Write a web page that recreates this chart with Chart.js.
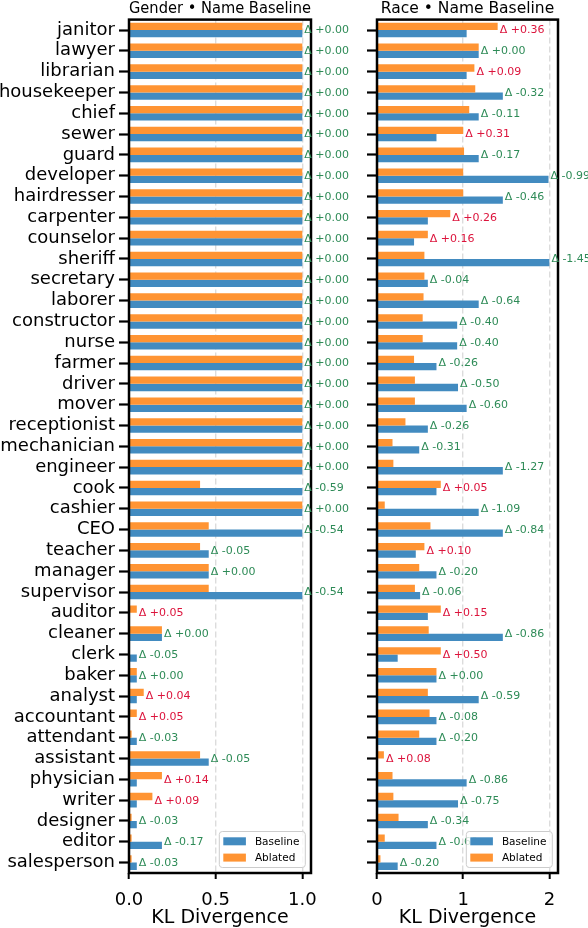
<!DOCTYPE html>
<html>
<head>
<meta charset="utf-8">
<script src="https://cdn.jsdelivr.net/npm/chart.js@4.4.1/dist/chart.umd.min.js"></script>
<style>
  html, body { margin: 0; padding: 0; background: #fff; }
  #wrap { position: relative; width: 588px; height: 928px; overflow: hidden; }
  #wrap canvas { position: absolute; left: 0; top: 0; }
</style>
</head>
<body>
<div id="wrap">
  <canvas id="gender" width="588" height="928"></canvas>
  <canvas id="race" width="588" height="928"></canvas>
</div>
<script>
// occupations, top to bottom
const occupations = ['janitor', 'lawyer', 'librarian', 'housekeeper', 'chief', 'sewer', 'guard',
  'developer', 'hairdresser', 'carpenter', 'counselor', 'sheriff', 'secretary', 'laborer',
  'constructor', 'nurse', 'farmer', 'driver', 'mover', 'receptionist', 'mechanician', 'engineer',
  'cook', 'cashier', 'CEO', 'teacher', 'manager', 'supervisor', 'auditor', 'cleaner', 'clerk',
  'baker', 'analyst', 'accountant', 'attendant', 'assistant', 'physician', 'writer', 'designer',
  'editor', 'salesperson'];

// Gender panel (KL divergence)
const genderBaseline = [1, 1, 1, 1, 1, 1, 1, 1, 1, 1, 1, 1, 1, 1, 1, 1, 1, 1, 1, 1, 1, 1,
  1, 1, 1, 0.46, 0.46, 1, 0, 0.19, 0.045, 0.045, 0.045, 0, 0.045, 0.46, 0.045, 0.045, 0.045, 0.19, 0.045];
const genderAblated = [1, 1, 1, 1, 1, 1, 1, 1, 1, 1, 1, 1, 1, 1, 1, 1, 1, 1, 1, 1, 1, 1,
  0.41, 1, 0.46, 0.41, 0.46, 0.46, 0.045, 0.19, 0, 0.045, 0.085, 0.045, 0.015, 0.41, 0.19, 0.135, 0.015, 0.015, 0.015];
const genderDelta = [0, 0, 0, 0, 0, 0, 0, 0, 0, 0, 0, 0, 0, 0, 0, 0, 0, 0, 0, 0, 0, 0,
  -0.59, 0, -0.54, -0.05, 0, -0.54, 0.05, 0, -0.05, 0, 0.04, 0.05, -0.03, -0.05, 0.14, 0.09, -0.03, -0.17, -0.03];

// Race panel (KL divergence)
const raceBaseline = [1.04, 1.18, 1.04, 1.46, 1.18, 0.69, 1.18, 1.99, 1.46, 0.59, 0.43, 2.00, 0.59, 1.18,
  0.93, 0.93, 0.69, 0.94, 1.04, 0.59, 0.49, 1.46, 0.69, 1.18, 1.46, 0.45, 0.69, 0.50, 0.59, 1.46,
  0.24, 0.69, 1.18, 0.69, 0.69, 0, 1.04, 0.94, 0.59, 0.69, 0.24];
const raceAblated = [1.40, 1.18, 1.13, 1.14, 1.07, 1.00, 1.01, 1.00, 1.00, 0.85, 0.59, 0.55, 0.55, 0.54,
  0.53, 0.53, 0.43, 0.44, 0.44, 0.33, 0.18, 0.19, 0.74, 0.09, 0.62, 0.55, 0.49, 0.44, 0.74, 0.60,
  0.74, 0.69, 0.59, 0.61, 0.49, 0.08, 0.18, 0.19, 0.25, 0.09, 0.04];
const raceDelta = [0.36, 0, 0.09, -0.32, -0.11, 0.31, -0.17, -0.99, -0.46, 0.26, 0.16, -1.45, -0.04, -0.64,
  -0.40, -0.40, -0.26, -0.50, -0.60, -0.26, -0.31, -1.27, 0.05, -1.09, -0.84, 0.10, -0.20, -0.06, 0.15, -0.86,
  0.50, 0, -0.59, -0.08, -0.20, 0.08, -0.86, -0.75, -0.34, -0.60, -0.20];

const genderTicks = ['0.0', '0.5', '1.0'];
const raceTicks = ['0', '1', '2'];

const BLUE = '#428bc0';
const ORANGE = '#ff9433';
const FONT = '"DejaVu Sans", Verdana, sans-serif';

Chart.defaults.font.family = FONT;
Chart.defaults.color = '#000';

// black box around the plotting area (matplotlib spines)
const panelFrame = {
  id: 'panelFrame',
  afterDatasetsDraw(chart) {
    const { ctx, chartArea: a } = chart;
    ctx.save();
    ctx.strokeStyle = '#000';
    ctx.lineWidth = 2.5;
    ctx.strokeRect(a.left, a.top, a.right - a.left, a.bottom - a.top);
    ctx.restore();
  }
};

// "Δ +0.05" text next to the longer bar of each pair
const deltaLabels = {
  id: 'deltaLabels',
  afterDatasetsDraw(chart, args, opts) {
    const { ctx } = chart;
    const xs = chart.scales.x, ys = chart.scales.y;
    const [abl, base] = chart.data.datasets.map(d => d.data);
    ctx.save();
    ctx.font = '11px ' + FONT;
    ctx.textBaseline = 'middle';
    ctx.textAlign = 'left';
    opts.values.forEach((d, i) => {
      const px = xs.getPixelForValue(Math.max(abl[i], base[i])) + 2;
      const txt = 'Δ ' + (d < 0 ? '-' : '+') + Math.abs(d).toFixed(2);
      ctx.fillStyle = d > 0 ? '#dc143c' : '#2e8b57';
      ctx.fillText(txt, px, ys.getPixelForValue(i) + 0.5);
    });
    ctx.restore();
  }
};

// legend box in the lower right corner of the plot
const insetLegend = {
  id: 'insetLegend',
  afterDatasetsDraw(chart) {
    const { ctx, chartArea: a } = chart;
    const w = 86, h = 36;
    const x0 = a.right - 5.7 - w, y0 = a.bottom - 5.5 - h;
    ctx.save();
    ctx.beginPath();
    ctx.roundRect(x0, y0, w, h, 3);
    ctx.fillStyle = 'rgba(255,255,255,0.8)';
    ctx.fill();
    ctx.strokeStyle = '#cccccc';
    ctx.lineWidth = 1;
    ctx.stroke();
    ctx.font = '10.5px ' + FONT;
    ctx.textBaseline = 'middle';
    ctx.textAlign = 'left';
    const items = chart.data.datasets.slice().reverse();
    items.forEach((ds, k) => {
      const cy = y0 + 9.8 + k * 16.3;
      ctx.fillStyle = ds.backgroundColor;
      ctx.fillRect(x0 + 4, cy - 4, 22.6, 8);
      ctx.fillStyle = '#000';
      ctx.fillText(ds.label, x0 + 35.6, cy + 0.5);
    });
    ctx.restore();
  }
};

function makePanel(id, title, ablated, baseline, deltas, xMax, step, tickLabels, showNames, pad, yWidth) {
  return new Chart(document.getElementById(id), {
    type: 'bar',
    data: {
      labels: occupations,
      datasets: [
        { label: 'Ablated', data: ablated, backgroundColor: ORANGE, borderWidth: 0,
          categoryPercentage: 0.7, barPercentage: 1.0 },
        { label: 'Baseline', data: baseline, backgroundColor: BLUE, borderWidth: 0,
          categoryPercentage: 0.7, barPercentage: 1.0 }
      ]
    },
    options: {
      indexAxis: 'y',
      responsive: false,
      animation: false,
      layout: { padding: pad },
      plugins: {
        legend: { display: false },
        tooltip: { enabled: false },
        title: {
          display: true, text: title, fullSize: false, color: '#000',
          font: { size: 15.5, weight: 'normal' }, padding: { top: 0, bottom: 1 }
        },
        deltaLabels: { values: deltas }
      },
      scales: {
        x: {
          type: 'linear', min: 0, max: xMax,
          ticks: {
            stepSize: step, includeBounds: false, color: '#000', padding: 11,
            font: { size: 18 },
            callback: (v, i) => tickLabels[i]
          },
          grid: {
            color: '#dcdcdc', lineWidth: 1.4, drawTicks: true,
            tickLength: 6, tickWidth: 2, tickColor: '#000', tickBorderDash: []
          },
          border: { display: false, dash: [6, 3] },
          title: {
            display: true, text: 'KL Divergence', color: '#000',
            font: { size: 19, lineHeight: 1.0 }, padding: { top: 0, bottom: 0 }
          },
          afterFit(scale) {
            scale.height = 55;
            scale.paddingLeft = 0;
            scale.paddingRight = 0;
          }
        },
        y: {
          type: 'category',
          ticks: {
            display: showNames, autoSkip: false, color: '#000', padding: 4,
            font: { size: 18 }
          },
          grid: {
            drawOnChartArea: false, offset: false, drawTicks: true,
            tickLength: 10, tickWidth: 2.2, tickColor: '#000'
          },
          border: { display: false },
          afterFit(scale) {
            scale.width = yWidth;
            scale.paddingTop = 0;
            scale.paddingBottom = 0;
          }
        }
      }
    },
    plugins: [panelFrame, deltaLabels, insetLegend]
  });
}

makePanel('gender', 'Gender \u2022 Name Baseline', genderAblated, genderBaseline, genderDelta,
  1.05, 0.5, genderTicks, true, { left: 0, right: 277, top: 0, bottom: 0 }, 129);
makePanel('race', 'Race \u2022 Name Baseline', raceAblated, raceBaseline, raceDelta,
  2.1, 1, raceTicks, false, { left: 365, right: 30, top: 0, bottom: 0 }, 12);
</script>
</body>
</html>
